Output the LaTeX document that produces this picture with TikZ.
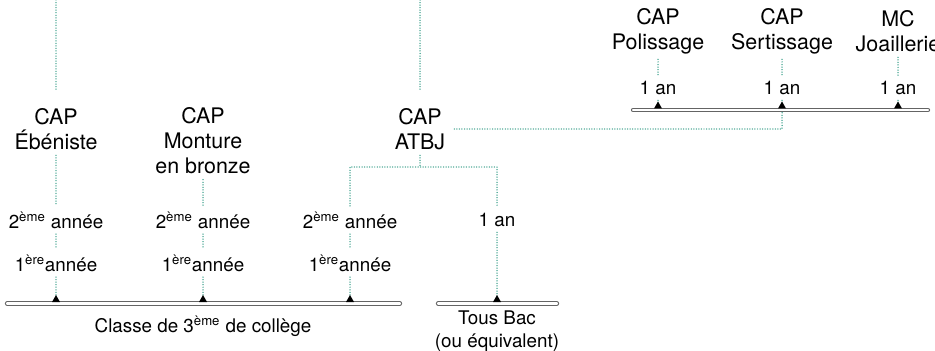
\documentclass[tikz,border=0pt]{standalone}
\usepackage{fontspec}
\setmainfont{TeX Gyre Heros}
\usetikzlibrary{calc}
\definecolor{dotgreen}{RGB}{56,158,138}
\definecolor{railgray}{RGB}{100,100,100}

\begin{document}
\begin{tikzpicture}[x=0.02cm, y=-0.02cm, line cap=round, line join=round]
  \useasboundingbox (0,0) rectangle (935,351);
  \tikzset{
    dots/.style={draw=dotgreen, line width=0.85pt, dash pattern=on 0pt off 1.45pt},
    rail/.style={draw=railgray, line width=0.55pt, double=white, double distance=1.3pt},
    dipl/.style={font=\fontsize{12.2}{14.2}\selectfont, align=center, inner sep=3pt},
    yr/.style={font=\fontsize{10.7}{13}\selectfont, align=center, inner sep=3pt}
  }

  % --- free ends at the top
  \coordinate (top1) at (56,0);
  \coordinate (top2) at (420,0);

  % --- diplomas
  \node[dipl] (ebe)  at (56,129)  {CAP\\Ébéniste};
  \node[dipl] (mon)  at (203,141) {CAP\\Monture\\en bronze};
  \node[dipl] (atbj) at (420,129) {CAP\\ATBJ};
  \node[dipl] (pol)  at (658,31)  {CAP\\Polissage};
  \node[dipl] (ser)  at (782,31)  {CAP\\Sertissage};
  \node[dipl] (mcj)  at (898,31)  {MC\\Joaillerie};

  % --- years
  \node[yr] (e2) at (56,220)  {2\textsuperscript{ème} année};
  \node[yr] (e1) at (56,263)  {1\textsuperscript{ère}année};
  \node[yr] (m2) at (203,220) {2\textsuperscript{ème} année};
  \node[yr] (m1) at (203,263) {1\textsuperscript{ère}année};
  \node[yr] (a2) at (350,220) {2\textsuperscript{ème} année};
  \node[yr] (a1) at (350,263) {1\textsuperscript{ère}année};
  \node[yr] (tan) at (497,220) {1 an};
  \node[yr] (pan) at (658,88) {1 an};
  \node[yr] (san) at (782,88) {1 an};
  \node[yr] (jan) at (898,88) {1 an};

  % --- entry levels
  \node[yr] (classe) at (203,326) {Classe de 3\textsuperscript{ème} de collège};
  \node[yr] (bac)    at (497,331) {Tous Bac\\(ou équivalent)};

  % --- rails and triangle bases
  \coordinate (c1) at (7,303.5);   \coordinate (c2) at (400,303.5);
  \coordinate (b1) at (438,303.5); \coordinate (b2) at (557,303.5);
  \coordinate (s1) at (633,110);   \coordinate (s2) at (928,110);

  \coordinate (t1) at (56,302);  \coordinate (t2) at (203,302);
  \coordinate (t3) at (350,302); \coordinate (t4) at (497,302);
  \coordinate (r1) at (658,108.5); \coordinate (r2) at (782,108.5);
  \coordinate (r3) at (898,108.5);
  \coordinate (split) at (420,167);
  \coordinate (sbot) at (782,111.5);

  % --- dotted links
  \draw[dots, shorten >=7pt] (top1) -- (ebe.north);
  \draw[dots, shorten >=7pt] (top2) -- (atbj.north);
  \draw[dots] (ebe.south) -- (e2.north);
  \draw[dots] (mon.south) -- (m2.north);
  \draw[dots] (e2) -- (e1) -- (t1);
  \draw[dots] (m2) -- (m1) -- (t2);
  \draw[dots] (a2) -- (a1) -- (t3);
  \draw[dots] (tan) -- (t4);
  \draw[dots] (atbj.south) -- (split);
  \draw[dots] (a2.north) |- (split) -| (tan.north);
  \draw[dots] ([xshift=2pt]atbj.east) -- (atbj.east -| sbot) -- (sbot);
  \draw[dots] (pol.south) -- (pan.north);
  \draw[dots] (ser.south) -- (san.north);
  \draw[dots] (mcj.south) -- (jan.north);
  \draw[dots] (pan) -- (r1);
  \draw[dots] (san) -- (r2);
  \draw[dots] (jan) -- (r3);

  % --- rails
  \draw[rail] (c1) -- (c2);
  \draw[rail] (b1) -- (b2);
  \draw[rail] (s1) -- (s2);

  % --- triangles
  \foreach \t in {t1,t2,t3,t4,r1,r2,r3}
    \fill[black] (\t) ++(-4,0) -- ++(8,0) -- ++(-4,-7) -- cycle;

\end{tikzpicture}
\end{document}
